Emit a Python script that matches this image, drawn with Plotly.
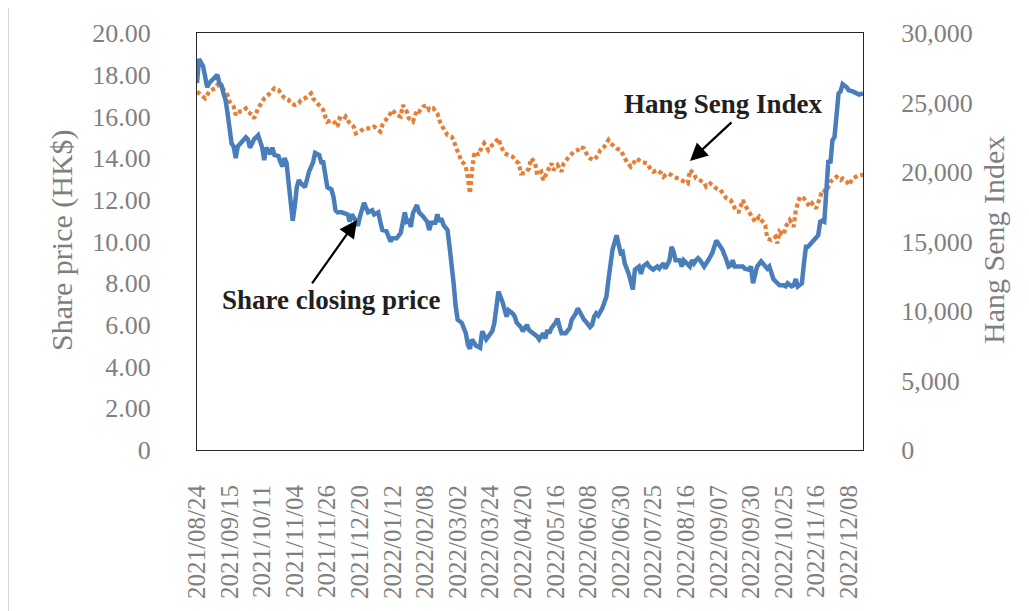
import plotly.graph_objects as go

# ---------------- data ----------------
tick_days = [0, 16, 32, 48, 64, 80, 96, 112, 128, 144, 160, 176, 192, 208, 224, 240, 256, 272, 288, 304, 320]
tick_dates = ["2021/08/24", "2021/09/15", "2021/10/11", "2021/11/04", "2021/11/26", "2021/12/20",
              "2022/01/12", "2022/02/08", "2022/03/02", "2022/03/24", "2022/04/20", "2022/05/16",
              "2022/06/08", "2022/06/30", "2022/07/25", "2022/08/16", "2022/09/07", "2022/09/30",
              "2022/10/25", "2022/11/16", "2022/12/08"]
last_day = 327

share_points = [
    (0, 17.6), (1, 18.75), (3, 18.4), (5, 17.4), (6, 17.6), (8, 17.8), (10, 18.0), (11, 17.6), (12, 17.5), (13, 17.1),
    (14, 16.8), (15, 16.15), (16, 15.5), (17, 14.7), (18, 14.55), (19, 14.0), (20, 14.55), (22, 14.8), (24, 15.0), (25, 14.9),
    (26, 14.5), (28, 14.9), (30, 15.1), (31, 14.8), (32, 14.5), (33, 13.9), (34, 14.5), (36, 14.2), (37, 14.5), (38, 14.15),
    (40, 14.1), (41, 13.8), (42, 13.6), (43, 14.0), (44, 13.75), (45, 12.8), (46, 11.7), (47, 11.0), (48, 11.7), (49, 12.6),
    (50, 12.95), (51, 12.8), (53, 12.6), (54, 12.95), (55, 13.35), (57, 13.8), (58, 14.25), (60, 14.15), (61, 13.8), (62, 13.8),
    (63, 13.3), (64, 12.6), (66, 12.5), (67, 12.15), (68, 11.5), (69, 11.4), (71, 11.4), (73, 11.3), (74, 11.3), (75, 10.95),
    (76, 11.3), (78, 11.0), (79, 10.75), (80, 11.2), (82, 11.85), (84, 11.4), (86, 11.5), (87, 11.3), (89, 11.4), (90, 10.95),
    (91, 10.55), (93, 10.5), (95, 10.0), (96, 10.15), (98, 10.15), (100, 10.4), (101, 10.9), (102, 11.4), (103, 10.95), (104, 11.0),
    (105, 10.7), (106, 11.35), (108, 11.75), (109, 11.4), (111, 11.2), (113, 10.95), (114, 10.55), (115, 10.9), (117, 10.9), (118, 11.3),
    (119, 10.95), (120, 11.1), (121, 10.8), (123, 10.55), (124, 9.75), (125, 8.95), (126, 8.0), (127, 6.9), (128, 6.25), (130, 6.1),
    (131, 5.9), (132, 5.6), (133, 5.05), (134, 4.85), (135, 5.3), (137, 5.0), (139, 4.9), (140, 5.7), (142, 5.3), (143, 5.45),
    (145, 5.7), (146, 6.1), (147, 6.9), (148, 7.6), (150, 7.1), (151, 6.7), (152, 6.4), (153, 6.7), (155, 6.55), (156, 6.4),
    (157, 6.1), (159, 5.9), (160, 5.7), (162, 6.0), (163, 5.75), (165, 5.6), (167, 5.45), (168, 5.3), (170, 5.6), (171, 5.35),
    (172, 5.75), (173, 5.6), (174, 5.85), (176, 6.1), (177, 6.3), (178, 5.9), (179, 5.6), (181, 5.6), (182, 5.75), (183, 5.85),
    (184, 6.25), (186, 6.55), (187, 6.8), (189, 6.4), (190, 6.25), (191, 6.15), (193, 5.9), (194, 6.0), (195, 6.4), (196, 6.55),
    (197, 6.45), (199, 6.8), (200, 7.05), (201, 7.35), (202, 8.15), (203, 8.95), (204, 9.6), (206, 10.3), (207, 9.75), (208, 9.45),
    (209, 9.5), (210, 8.95), (212, 8.45), (213, 8.0), (214, 7.7), (215, 8.65), (217, 8.8), (218, 8.45), (219, 8.8), (221, 8.95),
    (222, 8.8), (224, 8.65), (226, 8.8), (227, 8.7), (229, 8.95), (230, 8.7), (232, 9.1), (233, 9.75), (234, 9.5), (235, 9.1),
    (237, 9.1), (238, 8.8), (239, 9.1), (240, 9.0), (242, 8.8), (243, 9.1), (244, 8.95), (245, 9.1), (246, 9.2), (247, 9.1),
    (248, 8.95), (249, 8.8), (251, 9.1), (253, 9.45), (255, 10.05), (256, 9.9), (257, 9.75), (258, 9.6), (260, 9.1), (261, 8.8),
    (262, 8.85), (263, 9.1), (264, 8.8), (266, 8.8), (268, 8.8), (269, 8.7), (271, 8.65), (272, 8.8), (273, 8.0), (274, 8.4),
    (275, 8.8), (277, 9.05), (278, 8.95), (280, 8.7), (281, 8.8), (282, 8.45), (283, 8.2), (285, 8.0), (286, 7.9), (288, 7.9),
    (289, 7.85), (290, 8.0), (292, 7.85), (293, 7.9), (294, 8.2), (295, 7.85), (297, 8.0), (298, 8.95), (299, 9.75), (300, 9.75),
    (302, 10.0), (304, 10.25), (305, 10.3), (306, 10.95), (307, 11.0), (308, 10.95), (309, 12.95), (310, 13.9), (311, 13.75), (312, 14.85),
    (313, 15.0), (314, 16.15), (315, 17.1), (316, 17.2), (317, 17.55), (319, 17.4), (320, 17.25), (322, 17.2), (324, 17.1), (325, 17.05),
    (327, 17.1),
]

hsi_points = [
    (0, 25780), (2, 25540), (4, 25300), (6, 25780), (7, 25900), (9, 26020), (10, 26260), (12, 26140), (13, 25900), (15, 25540),
    (16, 25060), (18, 24700), (19, 24100), (20, 24340), (22, 24340), (24, 24580), (25, 24340), (27, 24100), (28, 23860), (30, 24580),
    (32, 25060), (33, 25300), (35, 25540), (37, 25900), (38, 26020), (40, 25900), (42, 25540), (43, 25300), (45, 25180), (46, 24940),
    (48, 24820), (50, 24940), (51, 25180), (53, 25300), (55, 25540), (56, 25660), (57, 25300), (59, 24940), (60, 24700), (62, 24460),
    (63, 23980), (64, 23620), (66, 23740), (68, 23500), (69, 23260), (70, 23860), (72, 23740), (73, 23980), (75, 23500), (77, 23260),
    (78, 22780), (80, 22900), (82, 23140), (84, 23140), (86, 23140), (87, 23260), (89, 23020), (90, 22900), (91, 23380), (93, 23740),
    (95, 24220), (96, 24460), (98, 24100), (100, 23980), (101, 24820), (103, 24340), (104, 23860), (106, 23620), (108, 24460), (109, 24340),
    (111, 24700), (113, 24820), (114, 24460), (116, 24580), (118, 24220), (119, 23740), (120, 23380), (122, 22900), (123, 22660), (125, 22540),
    (126, 22300), (127, 21820), (129, 20980), (130, 20740), (131, 20620), (132, 20380), (133, 19540), (134, 18460), (135, 20020), (136, 21220),
    (137, 21460), (138, 21220), (140, 21820), (141, 22060), (143, 21580), (144, 21820), (146, 22060), (148, 22420), (149, 21940), (150, 21700),
    (151, 21340), (153, 21220), (155, 21100), (156, 20860), (158, 20620), (159, 19900), (161, 19900), (163, 20260), (164, 20980), (166, 20700),
    (167, 19800), (169, 20020), (170, 19420), (172, 20020), (174, 20620), (175, 20140), (177, 20500), (179, 20020), (180, 20620), (182, 20980),
    (184, 21340), (185, 21460), (187, 21580), (188, 21820), (190, 21700), (192, 21100), (193, 20980), (195, 20860), (197, 21220), (198, 21580),
    (200, 21820), (202, 22300), (203, 22060), (205, 21820), (206, 21700), (208, 21580), (210, 20980), (211, 20740), (213, 20380), (215, 20740),
    (216, 20980), (218, 20740), (220, 20620), (221, 20620), (223, 20140), (224, 20020), (226, 20140), (228, 19900), (229, 19660), (231, 19900),
    (233, 19780), (234, 19660), (236, 19540), (238, 19420), (239, 19300), (241, 19180), (242, 20140), (244, 19900), (245, 19540), (247, 19420),
    (249, 19240), (250, 18940), (252, 19180), (253, 19060), (255, 18820), (257, 18700), (258, 18460), (260, 18100), (262, 17980), (263, 17740),
    (265, 17140), (266, 17140), (268, 17980), (269, 17620), (271, 17140), (273, 16780), (274, 16420), (276, 16780), (278, 16420), (279, 16180),
    (280, 15220), (282, 15100), (284, 15340), (285, 14860), (286, 15700), (288, 15460), (289, 16060), (291, 16540), (293, 16060), (294, 17260),
    (296, 18220), (298, 18100), (299, 17860), (301, 17500), (302, 17740), (304, 17380), (306, 18220), (307, 18700), (309, 18580), (311, 19300),
    (312, 19420), (314, 19660), (316, 19420), (317, 19540), (319, 19300), (320, 19060), (322, 19540), (324, 19660), (325, 19780), (327, 19800),
]

share_ticks = [0, 2, 4, 6, 8, 10, 12, 14, 16, 18, 20]
share_tick_text = ["0", "2.00", "4.00", "6.00", "8.00", "10.00", "12.00", "14.00", "16.00", "18.00", "20.00"]
hsi_ticks = [0, 5000, 10000, 15000, 20000, 25000, 30000]

share_day = [d for d, _ in share_points]
share_price = [v for _, v in share_points]
hsi_day = [d for d, _ in hsi_points]
hsi_value = [v for _, v in hsi_points]

# ---------------- styling ----------------
FONT = "Liberation Serif"
GRAY = "#7f7f7f"
BLUE = "#4a7ebb"
ORANGE = "#e67e35"
TXT = "#231f20"

fig = go.Figure()
fig.add_trace(go.Scatter(x=hsi_day, y=hsi_value, mode="lines", yaxis="y",
                         line=dict(color=ORANGE, width=4.2, dash="4px,3px"),
                         name="Hang Seng Index", hoverinfo="skip"))
fig.add_trace(go.Scatter(x=share_day, y=share_price, mode="lines", yaxis="y2",
                         line=dict(color=BLUE, width=4.5),
                         name="Share closing price", hoverinfo="skip"))

# The page body adds an 8px offset, so the figure is 8px smaller and the
# top/left margins 8px smaller to keep the plot area at the reference position.
fig.update_layout(
    width=1021, height=603,
    margin=dict(l=189, r=166, t=25, b=161),
    paper_bgcolor="white", plot_bgcolor="white",
    showlegend=False,
    font=dict(family=FONT, color=GRAY),
    xaxis=dict(range=[0, last_day], tickmode="array", tickvals=tick_days, ticktext=tick_dates,
               tickangle=-90, tickfont=dict(size=25, color=GRAY, family=FONT),
               ticks="outside", ticklen=24, tickcolor="rgba(0,0,0,0)",
               showline=True, linecolor="#262626", linewidth=1, mirror=True,
               showgrid=False, zeroline=False),
    yaxis=dict(range=[0, 30000], side="right", tickmode="array", tickvals=hsi_ticks,
               tickformat=",", tickfont=dict(size=26, color=GRAY, family=FONT),
               ticks="outside", ticklen=32, tickcolor="rgba(0,0,0,0)",
               showline=True, linecolor="#262626", linewidth=1, mirror=True,
               showgrid=False, zeroline=False),
    yaxis2=dict(range=[0, 20], side="left", overlaying="y", tickmode="array",
                tickvals=share_ticks, ticktext=share_tick_text,
                tickfont=dict(size=26, color=GRAY, family=FONT),
                ticks="outside", ticklen=40, tickcolor="rgba(0,0,0,0)",
                showline=False, showgrid=False, zeroline=False),
)

# Axis titles
fig.add_annotation(text="Share price (HK$)", xref="paper", yref="paper", x=-0.2027, y=0.5036,
                   textangle=-90, showarrow=False, font=dict(size=30, color=GRAY, family=FONT),
                   xanchor="center", yanchor="middle")
fig.add_annotation(text="Hang Seng Index", xref="paper", yref="paper", x=1.1967, y=0.5036,
                   textangle=-90, showarrow=False, font=dict(size=30, color=GRAY, family=FONT),
                   xanchor="center", yanchor="middle")

# Callout labels
fig.add_annotation(text="<b>Hang Seng Index</b>", xref="paper", yref="paper", x=0.7898, y=0.830,
                   xanchor="center", yanchor="middle",
                   showarrow=False, font=dict(size=27, color=TXT, family=FONT))
fig.add_annotation(text="<b>Share closing price</b>", xref="paper", yref="paper", x=0.2027, y=0.360,
                   xanchor="center", yanchor="middle",
                   showarrow=False, font=dict(size=27, color=TXT, family=FONT))

# Arrows
fig.add_annotation(text="", xref="paper", yref="paper", x=0.7402, y=0.6930, ax=43, ay=-40,
                   showarrow=True, arrowhead=2, arrowsize=1.6, arrowwidth=2.2, arrowcolor="black")
fig.add_annotation(text="", xref="paper", yref="paper", x=0.2402, y=0.5516, ax=-46, ay=65,
                   showarrow=True, arrowhead=2, arrowsize=1.6, arrowwidth=2.2, arrowcolor="black")

# Light chart-area frame (top and left edges visible)
fig.add_shape(type="rect", xref="paper", yref="paper", x0=-0.2838, x1=1.8, y0=-1.0, y1=1.0671,
              line=dict(color="#d9d9d9", width=2), fillcolor="rgba(0,0,0,0)", layer="below")

fig.write_html("out.html")
